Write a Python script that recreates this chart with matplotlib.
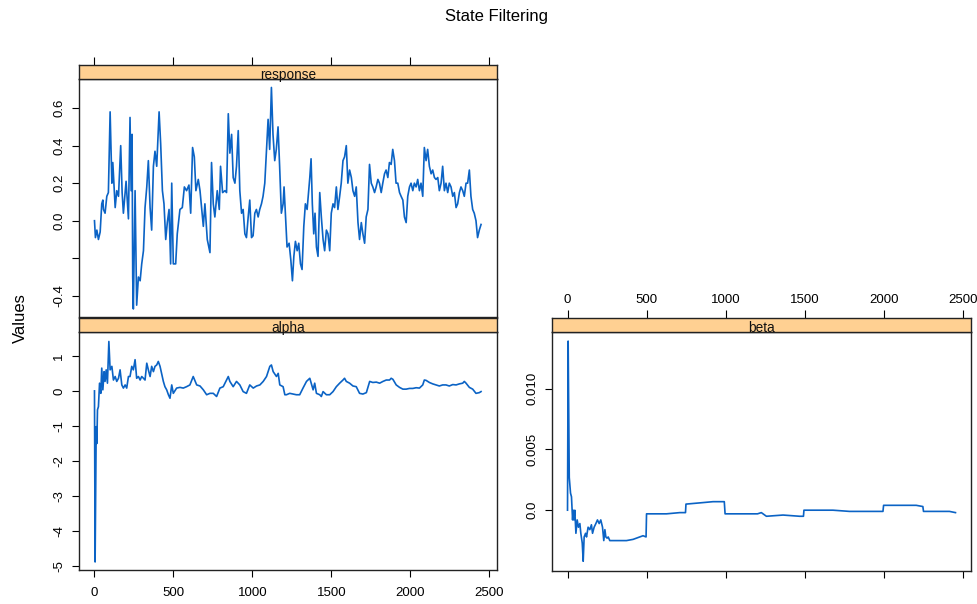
import matplotlib
matplotlib.use('Agg')
import matplotlib.pyplot as plt

plt.rcParams['font.family'] = ['Liberation Sans', 'DejaVu Sans']
plt.rcParams['axes.unicode_minus'] = False

# filtered states
resp_t = [0, 6, 15, 25, 36, 46, 53, 57, 67, 78, 88, 99, 110, 116, 131, 141, 152, 166, 175, 183,
          200, 215, 225, 232, 238, 242, 246, 257, 267, 278, 289, 299, 310, 320, 331, 341, 352, 362,
          373, 383, 394, 409, 419, 430, 440, 451, 461, 472, 482, 489, 499, 514, 524, 541, 556, 569,
          583, 598, 609, 621, 632, 642, 657, 668, 678, 689, 699, 714, 731, 741, 752, 762, 777, 790,
          798, 811, 826, 836, 847, 857, 868, 878, 889, 899, 910, 920, 931, 941, 952, 962, 973, 983,
          994, 1004, 1015, 1025, 1036, 1046, 1057, 1067, 1078, 1088, 1099, 1109, 1120, 1130, 1141,
          1151, 1162, 1172, 1183, 1194, 1200, 1211, 1219, 1232, 1243, 1253, 1262, 1272, 1283, 1293,
          1304, 1314, 1325, 1335, 1346, 1356, 1363, 1371, 1379, 1388, 1396, 1405, 1415, 1426, 1436,
          1447, 1457, 1468, 1478, 1489, 1499, 1510, 1520, 1531, 1541, 1552, 1562, 1573, 1583, 1594,
          1604, 1615, 1626, 1636, 1647, 1657, 1668, 1678, 1689, 1699, 1710, 1720, 1731, 1741, 1752,
          1762, 1773, 1783, 1794, 1804, 1815, 1825, 1836, 1846, 1857, 1867, 1878, 1888, 1899, 1909,
          1920, 1931, 1941, 1952, 1962, 1973, 1983, 1994, 2004, 2015, 2025, 2036, 2046, 2057, 2067,
          2078, 2088, 2099, 2109, 2120, 2131, 2141, 2152, 2162, 2173, 2183, 2194, 2204, 2215, 2225,
          2236, 2246, 2257, 2268, 2278, 2289, 2299, 2310, 2320, 2331, 2341, 2352, 2362, 2373, 2383,
          2394, 2404, 2415, 2425, 2436, 2447]
resp_v = [0.00, -0.09, -0.05, -0.10, -0.06, 0.09, 0.11, 0.06, 0.04, 0.13, 0.15, 0.58, 0.20, 0.31,
          0.07, 0.16, 0.13, 0.40, 0.15, 0.04, 0.21, 0.01, 0.55, 0.16, 0.46, -0.30, -0.47, 0.16, -0.45,
          -0.30, -0.32, -0.23, -0.16, 0.07, 0.18, 0.32, 0.07, -0.05, 0.29, 0.37, 0.29, 0.58, 0.41,
          0.16, 0.09, -0.10, -0.01, 0.06, -0.23, 0.20, -0.23, -0.23, -0.07, 0.06, 0.07, 0.18, 0.16,
          0.19, 0.04, 0.39, 0.34, 0.16, 0.22, 0.16, 0.07, -0.03, 0.09, -0.10, -0.17, 0.31, 0.09, 0.02,
          0.16, 0.06, 0.29, 0.15, 0.16, 0.15, 0.57, 0.36, 0.46, 0.23, 0.20, 0.29, 0.48, 0.16, 0.04,
          0.06, -0.07, -0.09, 0.02, 0.11, -0.09, -0.08, 0.04, 0.06, 0.02, 0.06, 0.09, 0.13, 0.20, 0.36,
          0.54, 0.38, 0.71, 0.46, 0.32, 0.38, 0.50, 0.29, 0.04, 0.09, 0.18, -0.01, -0.14, -0.12, -0.21,
          -0.32, -0.19, -0.11, -0.16, -0.12, -0.23, -0.26, -0.03, 0.09, 0.06, 0.16, 0.23, 0.33, 0.09,
          -0.07, 0.04, -0.14, -0.19, 0.15, 0.02, -0.10, -0.16, -0.05, -0.07, -0.16, 0.04, 0.09, 0.07,
          0.18, 0.06, 0.13, 0.20, 0.32, 0.34, 0.40, 0.20, 0.27, 0.23, 0.16, 0.13, 0.18, -0.01, -0.10,
          -0.01, -0.07, -0.12, 0.02, 0.06, 0.30, 0.20, 0.18, 0.15, 0.18, 0.22, 0.20, 0.15, 0.20, 0.25,
          0.27, 0.23, 0.31, 0.30, 0.38, 0.32, 0.20, 0.20, 0.15, 0.13, 0.11, 0.02, -0.01, 0.13, 0.18,
          0.20, 0.16, 0.20, 0.18, 0.22, 0.16, 0.20, 0.13, 0.39, 0.32, 0.38, 0.29, 0.25, 0.27, 0.23,
          0.22, 0.23, 0.16, 0.20, 0.29, 0.16, 0.20, 0.15, 0.20, 0.18, 0.13, 0.15, 0.07, 0.09, 0.15,
          0.18, 0.16, 0.13, 0.20, 0.20, 0.27, 0.13, 0.06, 0.04, 0.00, -0.09, -0.05, -0.02]

alpha_t = [0, 4, 11, 15, 19, 25, 32, 40, 46, 53, 61, 67, 74, 82, 91, 99, 110, 120, 131, 141, 152,
           162, 173, 183, 194, 204, 215, 225, 236, 246, 257, 267, 278, 289, 299, 310, 320, 331, 341,
           352, 362, 373, 383, 394, 404, 415, 425, 436, 446, 457, 468, 478, 489, 499, 520, 541, 562,
           583, 604, 625, 647, 668, 689, 710, 731, 752, 773, 794, 815, 836, 847, 857, 878, 899, 920,
           941, 962, 983, 1005, 1026, 1047, 1068, 1089, 1110, 1120, 1131, 1152, 1163, 1173, 1194,
           1205, 1215, 1236, 1257, 1278, 1299, 1320, 1342, 1363, 1384, 1394, 1405, 1426, 1436, 1447,
           1468, 1489, 1510, 1531, 1552, 1573, 1583, 1594, 1615, 1636, 1657, 1678, 1699, 1721, 1742,
           1762, 1784, 1805, 1826, 1847, 1868, 1878, 1889, 1910, 1931, 1952, 1973, 1994, 2015, 2036,
           2057, 2078, 2088, 2099, 2120, 2141, 2162, 2183, 2204, 2225, 2246, 2268, 2289, 2310, 2331,
           2341, 2352, 2373, 2394, 2415, 2436, 2447]
alpha_v = [0.00, -4.88, -1.02, -1.50, -0.54, -0.45, 0.22, -0.07, 0.65, 0.03, 0.55, 0.27, 0.60, 0.22,
           1.41, 0.60, 0.70, 0.31, 0.41, 0.27, 0.36, 0.60, 0.17, 0.08, 0.17, 0.08, 0.41, 0.41, 0.70,
           0.60, 0.89, 0.36, 0.41, 0.31, 0.41, 0.36, 0.31, 0.79, 0.60, 0.41, 0.70, 0.55, 0.70, 0.74,
           0.84, 0.70, 0.50, 0.27, 0.12, 0.03, -0.11, -0.21, 0.17, -0.07, 0.08, 0.10, 0.08, 0.12, 0.17,
           0.41, 0.17, 0.14, 0.03, -0.11, -0.07, -0.07, -0.16, 0.08, 0.12, 0.31, 0.41, 0.27, 0.12, 0.27,
           0.17, -0.02, -0.07, 0.17, 0.08, 0.14, 0.17, 0.27, 0.41, 0.70, 0.74, 0.55, 0.41, 0.50, 0.17,
           0.12, -0.11, -0.11, -0.07, -0.09, -0.11, -0.11, 0.08, 0.27, 0.36, 0.03, 0.22, -0.07, -0.11,
           -0.16, -0.02, -0.11, -0.11, -0.02, 0.12, 0.22, 0.31, 0.36, 0.27, 0.22, 0.14, 0.12, -0.07,
           -0.09, -0.05, 0.27, 0.24, 0.25, 0.22, 0.27, 0.31, 0.31, 0.36, 0.33, 0.17, 0.10, 0.05, 0.05,
           0.07, 0.07, 0.09, 0.08, 0.17, 0.31, 0.30, 0.24, 0.20, 0.17, 0.14, 0.17, 0.17, 0.14, 0.18,
           0.17, 0.20, 0.22, 0.27, 0.22, 0.10, 0.05, -0.07, -0.05, -0.02]

beta_t = [0, 4, 11, 19, 25, 32, 36, 40, 46, 53, 61, 69, 78, 84, 93, 99, 105, 114, 120, 130, 141,
          151, 158, 168, 179, 189, 200, 210, 221, 229, 236, 242, 250, 257, 267, 288, 330, 372, 414,
          456, 477, 496, 499, 540, 625, 709, 745, 748, 835, 919, 990, 995, 1045, 1150, 1200, 1224,
          1256, 1361, 1466, 1490, 1493, 1571, 1676, 1781, 1886, 1992, 1996, 2097, 2202, 2244, 2248,
          2307, 2412, 2450]
beta_v = [0.0, 0.0139, 0.0027, 0.0014, 0.0011, -0.0008, 0.0, -0.0008, 0.0, -0.0019, -0.0008,
          -0.0014, -0.0011, -0.0019, -0.0027, -0.0042, -0.0022, -0.0019, -0.0022, -0.0014, -0.0016,
          -0.0012, -0.0019, -0.0014, -0.0011, -0.0008, -0.0011, -0.0008, -0.0014, -0.0025, -0.0016,
          -0.0022, -0.0023, -0.0022, -0.0025, -0.0025, -0.0025, -0.0025, -0.0024, -0.0022, -0.0021,
          -0.0022, -0.0003, -0.0003, -0.0003, -0.0002, -0.0002, 0.0005, 0.0006, 0.0007, 0.0007,
          -0.0003, -0.0003, -0.0003, -0.0003, -0.0002, -0.0005, -0.0004, -0.0005, -0.0005, 0.0,
          0.0, 0.0, -0.0001, -0.0001, -0.0001, 0.0004, 0.0004, 0.0004, 0.0003, -0.0001, -0.0001,
          -0.0001, -0.0002]

xticks = [0, 500, 1000, 1500, 2000, 2500]
LINE = '#0B63C5'
STRIP = '#FFD092'
XLIM = (-98, 2548)
W, H = 977, 604

fig = plt.figure(figsize=(9.77, 6.04), dpi=100)


def rect(x0, y0, x1, y1):
    return [x0 / W, 1 - y1 / H, (x1 - x0) / W, (y1 - y0) / H]


def frame(ax):
    for s in ax.spines.values():
        s.set_linewidth(1.0)
        s.set_color('#222222')


def panel(x0, x1, y_strip, y_top, y_bot, name, t, v, ylim, yticks, ylabels):
    ax = fig.add_axes(rect(x0, y_top, x1, y_bot))
    ax.plot(t, v, color=LINE, lw=1.2)
    ax.set_xlim(XLIM)
    ax.set_ylim(ylim)
    ax.set_yticks(yticks)
    ax.set_yticklabels(ylabels, rotation=90, va='center')
    ax.tick_params(axis='both', direction='out', length=5, width=0.8, labelsize=9.5, pad=5)
    ax.set_xticks(xticks)
    frame(ax)

    st = fig.add_axes(rect(x0, y_strip, x1, y_top))
    st.set_facecolor(STRIP)
    st.set_xlim(XLIM)
    st.set_ylim(0, 1)
    st.set_yticks([])
    st.set_xticks(xticks)
    st.tick_params(axis='x', direction='out', length=5.5, width=0.8, labelsize=9.5,
                   bottom=False, labelbottom=False, top=False, labeltop=False, pad=3)
    st.text(0.5, 0.3, name, transform=st.transAxes, ha='center', va='center', fontsize=9.8,
            color='#111111')
    frame(st)
    return ax, st


ax_r, st_r = panel(79, 497, 65, 79, 317, 'response', resp_t, resp_v, (-0.513, 0.755),
                   [-0.4, -0.2, 0.0, 0.2, 0.4, 0.6], ['-0.4', '', '0.0', '0.2', '0.4', '0.6'])
ax_r.tick_params(axis='x', bottom=False, labelbottom=False)
st_r.tick_params(axis='x', top=True)

ax_a, st_a = panel(79, 497, 318, 332, 570, 'alpha', alpha_t, alpha_v, (-5.11, 1.68),
                   [-5, -4, -3, -2, -1, 0, 1], ['-5', '-4', '-3', '-2', '-1', '0', '1'])
ax_a.set_xticklabels([str(x) for x in xticks])
ax_a.tick_params(axis='x', pad=7)

ax_b, st_b = panel(552, 971, 318, 332, 571, 'beta', beta_t, beta_v, (-0.0050, 0.01465),
                   [0.0, 0.005, 0.010], ['0.0', '0.005', '0.010'])
ax_b.tick_params(axis='x', labelbottom=False)
st_b.tick_params(axis='x', top=True, labeltop=True)
st_b.set_xticklabels([str(x) for x in xticks])

fig.text(497 / W, 1 - 16 / H, 'State Filtering', ha='center', va='center', fontsize=12)
fig.text(20 / W, 1 - 318 / H, 'Values', ha='center', va='center', rotation=90, fontsize=12)

fig.savefig('out.png', dpi=100)
